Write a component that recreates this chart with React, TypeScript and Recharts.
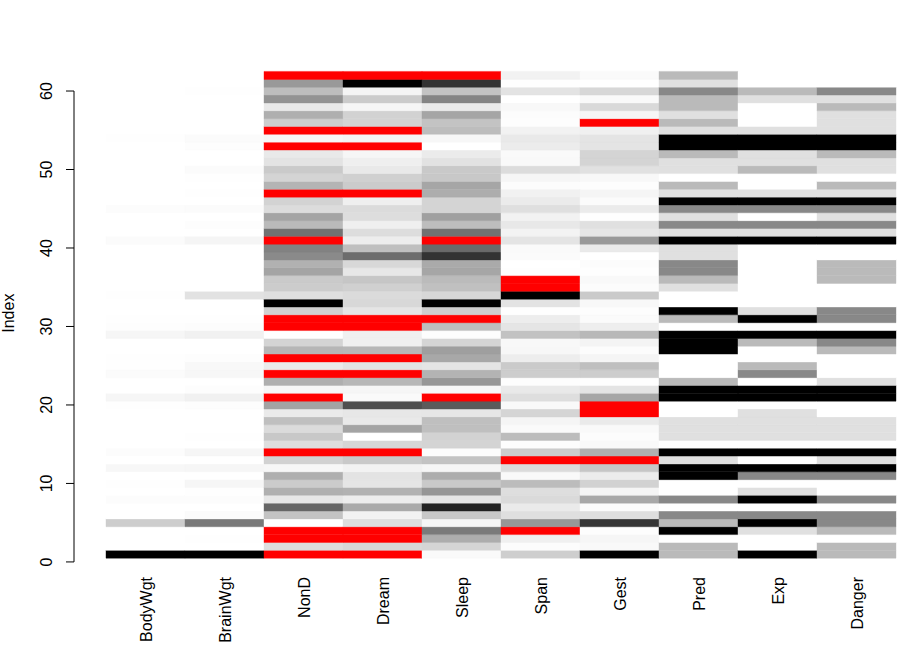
import React from 'react';
import { BarChart, Bar, XAxis, YAxis, Cell, ReferenceLine, Label } from 'recharts';

const variables = ['BodyWgt', 'BrainWgt', 'NonD', 'Dream', 'Sleep', 'Span', 'Gest', 'Pred', 'Exp', 'Danger'];
const indexTicks = [0, 10, 20, 30, 40, 50, 60];

const BodyWgt = [6654, 1, 3.385, 0.92, 2547, 10.55, 0.023, 160, 3.3, 52.16, 0.425, 465, 0.55, 187.1, 0.075, 3, 0.785, 0.2, 1.41, 60, 529, 27.66, 0.12, 207, 85, 36.33, 0.101, 1.04, 521, 100, 35, 0.005, 0.01, 62, 0.122, 1.35, 0.023, 0.048, 1.7, 3.5, 250, 0.48, 10, 1.62, 192, 2.5, 4.288, 0.28, 4.235, 6.8, 0.75, 3.6, 14.83, 55.5, 1.4, 0.06, 0.9, 2, 0.104, 4.19, 3.5, 4.05];
const BrainWgt = [5712, 6.6, 44.5, 5.7, 4603, 179.5, 0.3, 169, 25.6, 440, 6.4, 423, 2.4, 419, 1.2, 25, 3.5, 5, 17.5, 81, 680, 115, 1, 406, 325, 119.5, 4, 5.5, 655, 157, 56, 0.1, 0.25, 1320, 3, 8.1, 0.4, 0.33, 6.3, 10.8, 490, 15.5, 115, 11.4, 180, 12.1, 39.2, 1.9, 50.4, 179, 12.3, 21, 98.2, 175, 12.5, 1, 2.6, 12.3, 2.5, 58, 3.9, 17];
const NonD = [null, 6.3, null, null, 2.1, 9.1, 15.8, 5.2, 10.9, 8.3, 11, 3.2, 7.6, null, 6.3, 8.6, 6.6, 9.5, 4.8, 12, null, 3.3, 11, null, 4.7, null, 10.4, 7.4, 2.1, null, null, 7.7, 17.9, 6.1, 8.2, 8.4, 11.9, 10.8, 13.8, 14.3, null, 15.2, 10, 11.9, 6.5, 7.5, null, 10.6, 7.4, 8.4, 5.7, 4.9, null, 3.2, null, 8.1, 11, 4.9, 13.2, 9.7, 12.8, null];
const Dream = [null, 2, null, null, 1.8, 0.7, 3.9, 1, 3.6, 1.4, 1.5, 0.7, 2.7, null, 2.1, 0, 4.1, 1.2, 1.3, 6.1, 0.3, 0.5, 3.4, null, 1.5, null, 3.4, 0.8, 0.8, null, null, 1.4, 2, 1.9, 2.4, 2.8, 1.3, 2, 5.6, 3.1, 1, 1.8, 0.9, 1.8, 1.9, 0.9, null, 2.6, 2.4, 1.2, 0.9, 0.5, null, 0.6, null, 2.2, 2.3, 0.5, 2.6, 0.6, 6.6, null];
const Sleep = [3.3, 8.3, 12.5, 16.5, 3.9, 9.8, 19.7, 6.2, 14.5, 9.7, 12.5, 3.9, 10.3, 3.1, 8.4, 8.6, 10.7, 10.7, 6.1, 18.1, null, 3.8, 14.4, 12, 6.2, 13, 13.8, 8.2, 2.9, 10.8, null, 9.1, 19.9, 8, 10.6, 11.2, 13.2, 12.8, 19.4, 17.4, null, 17, 10.9, 13.7, 8.4, 8.4, 12.5, 13.2, 9.8, 9.6, 6.6, 5.4, 2.6, 3.8, 11, 10.3, 13.3, 5.4, 15.8, 10.3, 19.4, null];
const Span = [38.6, 4.5, 14, null, 69, 27, 19, 30.4, 28, 50, 7, 30, null, 40, 3.5, 50, 6, 10.4, 34, 7, 28, 20, 3.9, 39.3, 41, 16.2, 9, 7.6, 46, 22.4, 16.3, 2.6, 24, 100, null, null, 3.2, 2, 5, 6.5, 23.6, 12, 20.2, 13, 27, 18, 13.7, 4.7, 9.8, 29, 7, 6, 17, 20, 12.7, 3.5, 4.5, 7.5, 2.3, 24, 3, 13];
const Gest = [645, 42, 60, 25, 624, 180, 35, 392, 63, 230, 112, 281, null, 365, 42, 28, 42, 120, null, null, 400, 148, 16, 252, 310, 63, 28, 68, 336, 100, 33, 21.5, 50, 267, 30, 45, 19, 30, 12, 120, 440, 140, 170, 17, 115, 31, 63, 21, 52, 164, 225, 225, 150, 151, 90, null, 60, 200, 46, 210, 14, 38];
const Pred = [3, 3, 1, 5, 3, 4, 1, 4, 1, 1, 5, 5, 2, 5, 1, 2, 2, 2, 1, 1, 5, 5, 3, 1, 1, 1, 5, 5, 5, 1, 3, 5, 1, 1, 2, 3, 4, 4, 2, 2, 5, 2, 4, 2, 4, 5, 2, 3, 1, 2, 2, 3, 5, 5, 2, 3, 2, 3, 3, 4, 2, 3];
const Exp = [5, 1, 1, 2, 5, 4, 1, 5, 2, 1, 4, 5, 1, 5, 1, 2, 2, 2, 2, 1, 5, 5, 1, 4, 3, 1, 1, 3, 5, 1, 5, 2, 1, 1, 1, 1, 1, 1, 1, 1, 5, 2, 4, 1, 4, 5, 2, 1, 1, 3, 2, 2, 5, 5, 2, 1, 1, 1, 2, 3, 1, 1];
const Danger = [3, 3, 1, 3, 4, 4, 1, 4, 1, 1, 4, 5, 2, 5, 1, 2, 2, 2, 1, 1, 5, 5, 2, 1, 1, 1, 3, 4, 5, 1, 4, 4, 1, 1, 1, 3, 3, 3, 1, 1, 5, 2, 4, 2, 4, 5, 2, 3, 1, 2, 2, 3, 5, 5, 2, 2, 2, 3, 2, 4, 1, 1];

const columns: (number | null)[][] = [BodyWgt, BrainWgt, NonD, Dream, Sleep, Span, Gest, Pred, Exp, Danger];

const MISSING = '#FF0000';
const GAMMA = 2.2;
const FONT = 'Arial, "Liberation Sans", sans-serif';
const INDEX_DOMAIN: [number, number] = [0.5, 62.5];
// gap between the index axis and the left edge of the cells, in column units
const AXIS_OFFSET = -32 / 79;

function grayColors(values: (number | null)[]): string[] {
  const present = values.filter((v) => v !== null) as number[];
  const lo = Math.min(...present);
  const hi = Math.max(...present);
  return values.map((v) => {
    if (v === null) return MISSING;
    const t = (v - lo) / (hi - lo);
    const g = Math.round(255 * Math.pow(1 - t, 1 / GAMMA));
    const h = g.toString(16).padStart(2, '0');
    return '#' + h + h + h;
  });
}

const colorColumns = columns.map(grayColors);

const rows = BodyWgt.map((_, i) => {
  const r: Record<string, number> = { idx: i + 1 };
  variables.forEach((v) => {
    r[v] = 1;
  });
  return r;
});

const xTicks = variables.map((_, i) => i + 0.5);

const XTick = (props: any) => {
  const { x, y, payload } = props;
  const name = variables[Math.floor(payload.value)];
  return (
    <text
      x={x}
      y={y}
      dy={6.5}
      transform={`rotate(-90, ${x}, ${y})`}
      textAnchor="end"
      fontSize={16}
      fontFamily={FONT}
      fill="#000"
    >
      {name}
    </text>
  );
};

const YTick = (props: any) => {
  const { x, y, payload } = props;
  const lineRight = x - 32;
  const lineLeft = lineRight - 8;
  const tx = x - 54;
  return (
    <g>
      <line x1={lineLeft} y1={y} x2={lineRight} y2={y} stroke="#000" strokeWidth={1} />
      <text
        x={tx}
        y={y}
        transform={`rotate(-90, ${tx}, ${y})`}
        textAnchor="middle"
        fontSize={16}
        fontFamily={FONT}
        fill="#000"
      >
        {payload.value}
      </text>
    </g>
  );
};

const IndexLabel = (props: any) => {
  const vb = props.viewBox || {};
  const x = (vb.x ?? 0) + 14;
  const y = (vb.y ?? 0) + (vb.height ?? 0) / 2 - 1.5;
  return (
    <text
      x={x}
      y={y}
      transform={`rotate(-90, ${x}, ${y})`}
      textAnchor="middle"
      fontSize={16}
      fontFamily={FONT}
      fill="#000"
    >
      Index
    </text>
  );
};

export default function App() {
  return (
    <div style={{ position: 'absolute', left: 0, top: 0, width: 897, height: 649, background: '#fff' }}>
      <BarChart
        width={897}
        height={649}
        data={rows}
        layout="vertical"
        margin={{ top: 71.4, right: 1, bottom: 0, left: 0 }}
        barCategoryGap={0}
        barGap={0}
      >
        <XAxis
          type="number"
          domain={[0, 10]}
          ticks={xTicks}
          interval={0}
          height={91}
          axisLine={false}
          tickLine={false}
          tickSize={0}
          tickMargin={19}
          tick={<XTick />}
        />
        <YAxis
          yAxisId="idx"
          type="number"
          dataKey="idx"
          domain={INDEX_DOMAIN}
          allowDataOverflow
          reversed
          ticks={indexTicks}
          interval={0}
          width={106}
          axisLine={false}
          tickLine={false}
          tickSize={0}
          tickMargin={0}
          tick={<YTick />}
        >
          <Label content={<IndexLabel />} />
        </YAxis>
        <YAxis yAxisId="rows" type="category" dataKey="idx" reversed hide />
        {variables.map((v, ci) => (
          <Bar key={v} dataKey={v} yAxisId="rows" stackId="m" isAnimationActive={false}>
            {colorColumns[ci].map((c, ri) => (
              <Cell key={ri} fill={c} stroke={c} strokeWidth={0.4} />
            ))}
          </Bar>
        ))}
        <ReferenceLine
          yAxisId="idx"
          xAxisId={0}
          segment={[
            { x: AXIS_OFFSET, y: 0 },
            { x: AXIS_OFFSET, y: 60 },
          ]}
          ifOverflow="visible"
          stroke="#000"
          strokeWidth={1}
        />
      </BarChart>
    </div>
  );
}
